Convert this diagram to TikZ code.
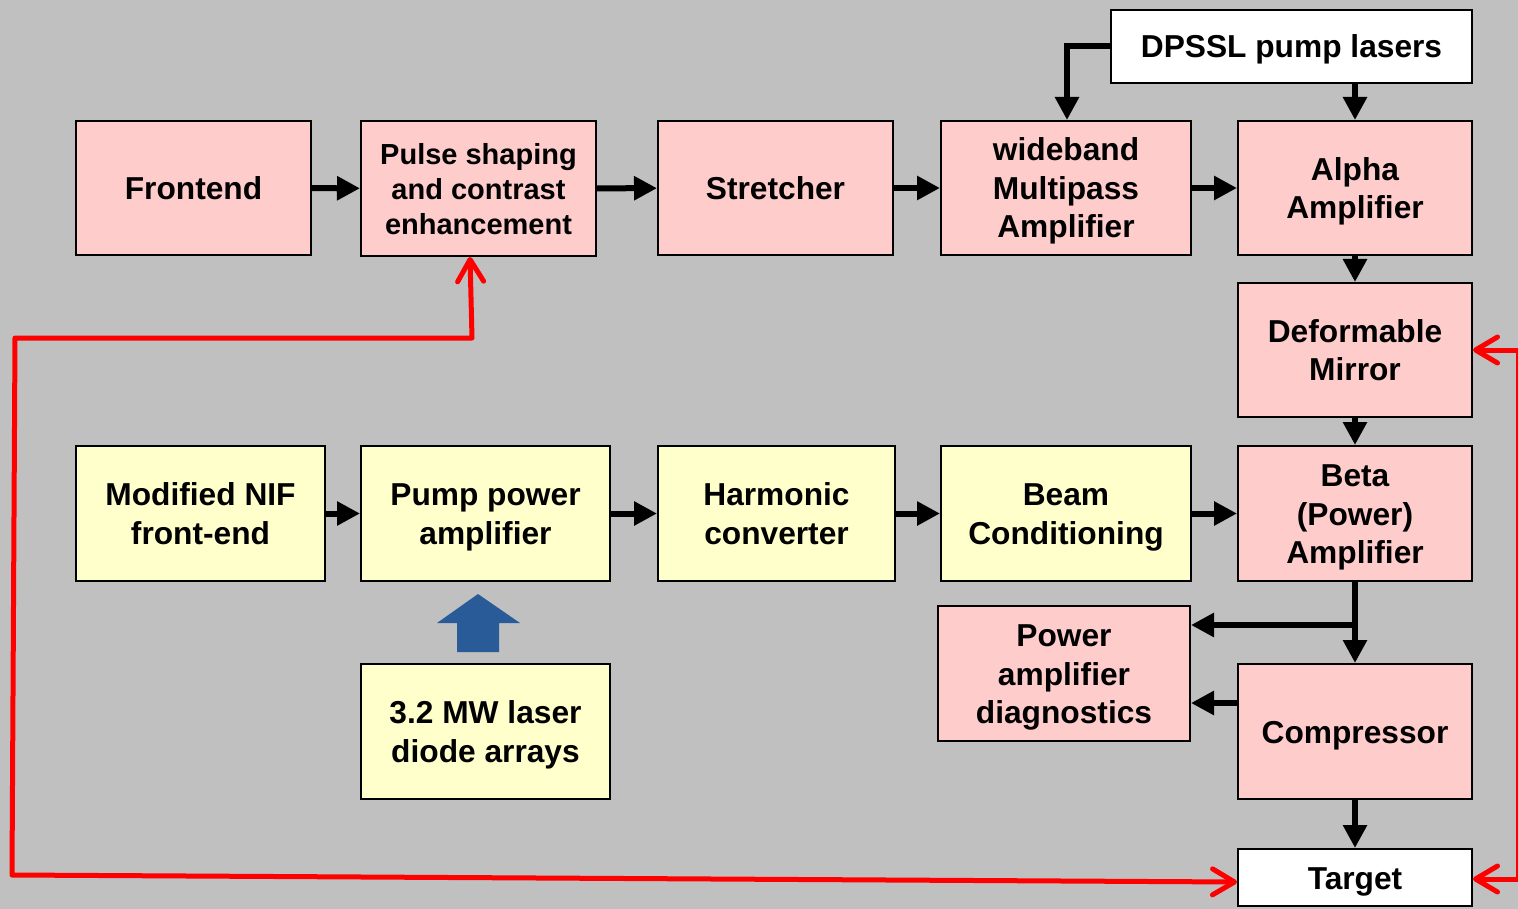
\documentclass[tikz,border=0pt]{standalone}
\usepackage{fontspec}
\setmainfont{Liberation Sans}
\usetikzlibrary{arrows.meta}
\definecolor{bg}{RGB}{192,192,192}
\definecolor{pinkbox}{RGB}{255,204,204}
\definecolor{yellowbox}{RGB}{255,255,204}
\definecolor{bluearrow}{RGB}{41,91,153}
\newcommand\topstr{\rule{0pt}{31pt}}
\newcommand\botstr{\rule[-8pt]{0pt}{8pt}}
\tikzset{
  box/.style={draw=black, line width=2pt, inner sep=0pt, align=center,
    font=\fontsize{31.7}{38.5}\selectfont\bfseries},
  pbox/.style={box, fill=pinkbox},
  ybox/.style={box, fill=yellowbox},
  wbox/.style={box, fill=white},
  arr/.style={line width=6pt, -{Triangle[length=23pt,width=23pt]}},
  redline/.style={draw=red, line width=5pt, line join=round, line cap=round},
  redtip/.tip={Straight Barb[length=22pt,width=26pt,round]},
}
\begin{document}
\begin{tikzpicture}[x=1pt,y=-1pt]
\useasboundingbox (0,0) rectangle (1518,909);
\fill[bg] (0,0) rectangle (1518,909);

% top row
\node[pbox, minimum width=235, minimum height=134] (front) at (193.5,188) {\topstr Frontend\botstr};
\node[pbox, minimum width=235, minimum height=135, font=\fontsize{29}{35}\selectfont\bfseries] (pulse) at (478.5,188.5) {\topstr Pulse shaping\\and contrast\\enhancement\botstr};
\node[pbox, minimum width=235, minimum height=134] (stretch) at (775.5,188) {\topstr Stretcher\botstr};
\node[pbox, minimum width=250, minimum height=134] (wide) at (1066,188) {\topstr wideband\\Multipass\\Amplifier\botstr};
\node[pbox, minimum width=234, minimum height=134] (alpha) at (1355,188) {\topstr Alpha\\Amplifier\botstr};
\node[wbox, minimum width=361, minimum height=73] (dpssl) at (1291.5,46.5) {\topstr DPSSL pump lasers\botstr};
\node[pbox, minimum width=234, minimum height=134] (dm) at (1355,350) {\topstr Deformable\\Mirror\botstr};
\node[pbox, minimum width=234, minimum height=135] (beta) at (1355,513.5) {\topstr Beta\\(Power)\\Amplifier\botstr};

% lower row
\node[ybox, minimum width=249, minimum height=135] (nif) at (200.5,513.5) {\topstr Modified NIF\\front-end\botstr};
\node[ybox, minimum width=249, minimum height=135] (pump) at (485.5,513.5) {\topstr Pump power\\amplifier\botstr};
\node[ybox, minimum width=237, minimum height=135] (harm) at (776.5,513.5) {\topstr Harmonic\\converter\botstr};
\node[ybox, minimum width=250, minimum height=135] (beam) at (1066,513.5) {\topstr Beam\\Conditioning\botstr};
\node[ybox, minimum width=249, minimum height=135] (diode) at (485.5,731.5) {\topstr 3.2 MW laser\\diode arrays\botstr};
\node[pbox, minimum width=252, minimum height=135] (diag) at (1064,673.5) {\topstr Power\\amplifier\\diagnostics\botstr};
\node[pbox, minimum width=234, minimum height=135] (comp) at (1355,731.5) {\topstr Compressor\botstr};
\node[wbox, minimum width=234, minimum height=57] (target) at (1355,877.5) {\topstr Target\botstr};

% black arrows
\draw[arr] (front) -- (pulse);
\draw[arr] (pulse) -- (stretch);
\draw[arr] (stretch) -- (wide);
\draw[arr] (wide) -- (alpha);
\draw[arr, line join=miter] (dpssl.west) -| ([xshift=1pt]wide.north);
\draw[arr] (dpssl.south -| alpha.north) -- (alpha.north);
\draw[arr] (alpha) -- (dm);
\draw[arr] (dm) -- (beta);
\draw[arr] (nif) -- (pump);
\draw[arr] (pump) -- (harm);
\draw[arr] (harm) -- (beam);
\draw[arr] (beam) -- (beta);
\draw[arr] (beta) -- (comp);
\coordinate (br) at (1355,625);
\draw[arr] (br) -- (br -| diag.east);
\draw[arr] ([yshift=28.5pt]comp.west) -- ([yshift=28.5pt]comp.west -| diag.east);
\draw[arr] (comp) -- (target);

% blue arrow
\fill[bluearrow] (478,594) -- (520,623) -- (499,623) -- (499,652) -- (457,652) -- (457,623) -- (437,623) -- cycle;

% red feedback lines
\coordinate (r1) at (472,338);
\coordinate (r2) at (15,338);
\coordinate (r3) at (12,875);
\draw[redline, redtip-redtip] ([xshift=-8.5pt]pulse.south) -- (r1) -- (r2) -- (r3) -- ([yshift=-4.5pt]target.west);
\coordinate (e1) at (1518,350);
\coordinate (e2) at (1518,879);
\draw[red, line width=2pt] (1516.5,350) -- (1516.5,879);
\draw[redline, -redtip] (e1) -- (dm.east);
\draw[redline, -redtip] (e2) -- (e2 -| target.east);
\end{tikzpicture}
\end{document}
